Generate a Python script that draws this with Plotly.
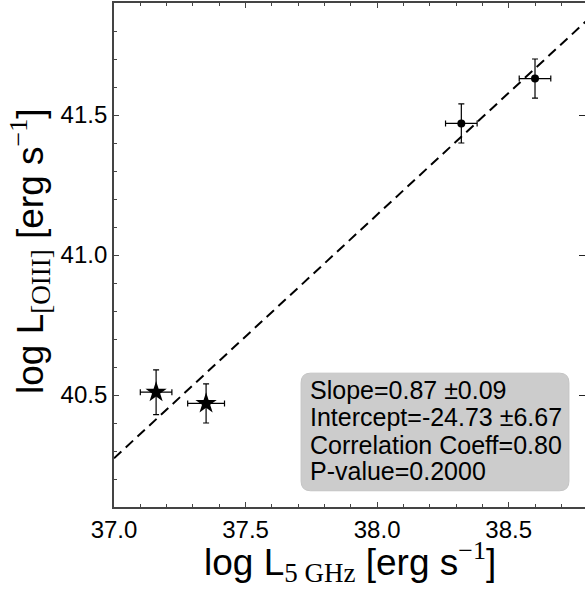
import plotly.graph_objects as go

# Data
star_x = [37.16, 37.35]
star_y = [40.51, 40.47]
star_xerr = [0.06, 0.07]
star_yerr = [0.08, 0.07]

dot_x = [38.32, 38.60]
dot_y = [41.47, 41.63]
dot_xerr = [0.06, 0.06]
dot_yerr = [0.07, 0.07]

fit_x = [37.0, 38.8]
fit_y = [40.274, 41.84]

stats_lines = ["Slope=0.87 \u00b10.09", "Intercept=-24.73 \u00b16.67",
               "Correlation Coeff=0.80", "P-value=0.2000"]
stats_line_y = [40.518, 40.420, 40.322, 40.228]

x_range = [37.0, 38.79]
y_range = [40.1, 41.9]
x_ticks = [37.0, 37.5, 38.0, 38.5]
y_ticks = [40.5, 41.0, 41.5]

FONT = "Liberation Sans, Arial, sans-serif"
SERIF = "Liberation Serif"
AX = "#444444"

fig = go.Figure()

fig.add_trace(go.Scatter(x=fit_x, y=fit_y, mode="lines",
                         line=dict(color="black", width=2, dash="10px,6px"),
                         hoverinfo="skip", showlegend=False))

fig.add_trace(go.Scatter(
    x=star_x, y=star_y, mode="markers",
    marker=dict(symbol="star", size=16, color="black"),
    error_x=dict(type="data", array=star_xerr, color="black", thickness=1.2, width=3),
    error_y=dict(type="data", array=star_yerr, color="black", thickness=1.2, width=3),
    showlegend=False))

fig.add_trace(go.Scatter(
    x=dot_x, y=dot_y, mode="markers",
    marker=dict(symbol="circle", size=8, color="black"),
    error_x=dict(type="data", array=dot_xerr, color="black", thickness=1.2, width=3),
    error_y=dict(type="data", array=dot_yerr, color="black", thickness=1.2, width=3),
    showlegend=False))

# invisible trace for right-side tick axis
fig.add_trace(go.Scatter(x=[x_range[0]], y=[y_range[0]], yaxis="y2", mode="markers",
                         marker=dict(opacity=0), hoverinfo="skip", showlegend=False))

# rounded stats box
bx0, bx1, by0, by1 = 37.711, 38.729, 40.158, 40.578
rx, ry = 0.036, 0.034
path = (f"M {bx0+rx},{by0} L {bx1-rx},{by0} Q {bx1},{by0} {bx1},{by0+ry} "
        f"L {bx1},{by1-ry} Q {bx1},{by1} {bx1-rx},{by1} "
        f"L {bx0+rx},{by1} Q {bx0},{by1} {bx0},{by1-ry} "
        f"L {bx0},{by0+ry} Q {bx0},{by0} {bx0+rx},{by0} Z")
fig.add_shape(type="path", path=path, xref="x", yref="y",
              fillcolor="#cccccc", line=dict(color="#c4c4c4", width=1), layer="below")

for txt, ty in zip(stats_lines, stats_line_y):
    fig.add_annotation(x=37.738, y=ty, xref="x", yref="y",
                       xanchor="left", yanchor="middle", align="left", showarrow=False,
                       text=txt, font=dict(family=FONT, size=25, color="black"))

sub = lambda s, sz: f'<span style="font-family:{SERIF};font-size:{sz}px">{s}</span>'

x_title = ('log L<sub>' + sub('5 GHz', 27) + '</sub> [erg s<sup>'
           + sub('\u22121', 26) + '</sup>]')
y_title = ('log L<sub>' + sub('[OIII]', 27) + '</sub> [erg s<sup>'
           + sub('\u22121', 26) + '</sup>]')

fig.add_annotation(x=0.5, y=0, xref="paper", yref="paper", xanchor="center",
                   yanchor="top", yshift=-27, showarrow=False, text=x_title,
                   font=dict(family=FONT, size=37, color="black"))
fig.add_annotation(x=0, y=(507 - 252) / 504, xref="paper", yref="paper",
                   xanchor="center", yanchor="middle", xshift=-84, textangle=-90,
                   showarrow=False, text=y_title,
                   font=dict(family=FONT, size=37, color="black"))

fig.update_layout(
    width=585, height=590,
    margin=dict(l=114, r=0, t=3, b=83),
    paper_bgcolor="white", plot_bgcolor="white",
    font=dict(family=FONT, size=24, color="black"),
    xaxis=dict(range=x_range, tickvals=x_ticks, ticktext=[f"{v:.1f}" for v in x_ticks],
               ticks="inside", ticklen=5, tickwidth=1, tickcolor=AX,
               showline=True, linecolor=AX, linewidth=1.8, mirror="ticks",
               showgrid=False, zeroline=False,
               minor=dict(dtick=0.1, ticks="inside", ticklen=3, tickcolor=AX, showgrid=False),
               tickfont=dict(size=24)),
    yaxis=dict(range=y_range, tickvals=y_ticks, ticktext=[f"{v:.1f}" for v in y_ticks],
               ticks="inside", ticklen=5, tickwidth=1, tickcolor=AX,
               showline=True, linecolor=AX, linewidth=1.8, mirror=False,
               showgrid=False, zeroline=False,
               minor=dict(dtick=0.1, ticks="inside", ticklen=3, tickcolor=AX, showgrid=False),
               tickfont=dict(size=24)),
    yaxis2=dict(range=y_range, overlaying="y", side="right", anchor="x",
                tickvals=y_ticks, showticklabels=False, ticks="inside", ticklen=6,
                tickwidth=1.2, tickcolor="#222222", showline=False, showgrid=False,
                zeroline=False),
)

fig.write_html("out.html")
